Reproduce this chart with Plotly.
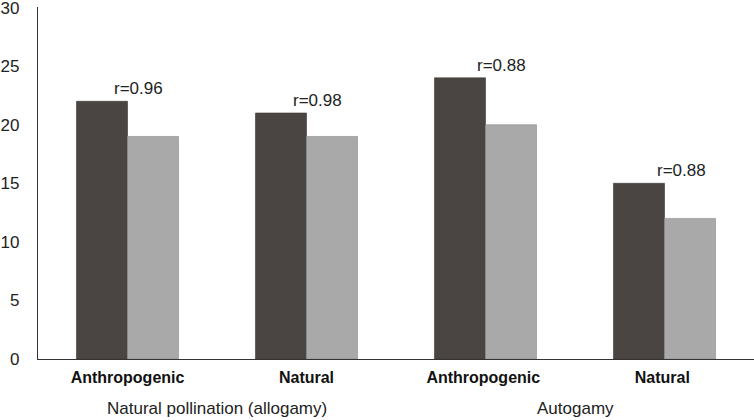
import plotly.graph_objects as go

categories = ["Anthropogenic", "Natural", "Anthropogenic ", "Natural "]
dark_values = [22, 21, 24, 15]
light_values = [19, 19, 20, 12]
r_labels = ["r=0.96", "r=0.98", "r=0.88", "r=0.88"]
r_shifts = [11, 11, 16, 17]
y_ticks = [0, 5, 10, 15, 20, 25, 30]
groups = ["Natural pollination (allogamy)", "Autogamy"]
group_pos = [0.5, 2.5]

FONT = "Liberation Sans, Arial, sans-serif"

fig = go.Figure()
fig.add_trace(go.Bar(
    x=categories, y=dark_values, name="dark",
    marker=dict(color="#4a4542", line=dict(color="#3a3633", width=0.6)),
))
fig.add_trace(go.Bar(
    x=categories, y=light_values, name="light",
    marker=dict(color="#a9a9a9", line=dict(color="#8a8a8a", width=0.6)),
))

# correlation labels above the dark bars
for cat, val, lab, dx in zip(categories, dark_values, r_labels, r_shifts):
    fig.add_annotation(
        x=cat, y=val, text=lab, showarrow=False,
        xshift=dx, yshift=1, yanchor="bottom",
        font=dict(family=FONT, size=17, color="#222222"),
    )

# group labels under the category labels
for g, pos in zip(groups, group_pos):
    fig.add_annotation(
        x=pos, y=-0.142, xref="x", yref="paper", text=g, showarrow=False,
        yanchor="middle",
        font=dict(family=FONT, size=17, color="#222222"),
    )

fig.update_layout(
    width=754, height=420,
    margin=dict(l=38, r=0, t=7, b=61),
    barmode="group", bargap=0.43, bargroupgap=0,
    showlegend=False,
    plot_bgcolor="white", paper_bgcolor="white",
    font=dict(family=FONT, color="#222222"),
    xaxis=dict(
        showline=True, linecolor="#333333", linewidth=1.3,
        ticks="", showgrid=False, ticklabelstandoff=4,
        tickfont=dict(family=FONT, size=16, color="#111111"),
        tickprefix="<b>", ticksuffix="</b>",
    ),
    yaxis=dict(
        range=[0, 30.05], tickmode="array", tickvals=y_ticks,
        showline=True, linecolor="#333333", linewidth=1.3,
        ticks="", showgrid=False, zeroline=False, ticklabelstandoff=14,
        ticklabeloverflow="allow",
        tickfont=dict(family=FONT, size=17, color="#222222"),
    ),
)

# drop the default body margin so the figure sits at the page corner
fig.write_html(
    "out.html",
    config={"displayModeBar": False},
    post_script="document.body.style.margin='0';",
)
